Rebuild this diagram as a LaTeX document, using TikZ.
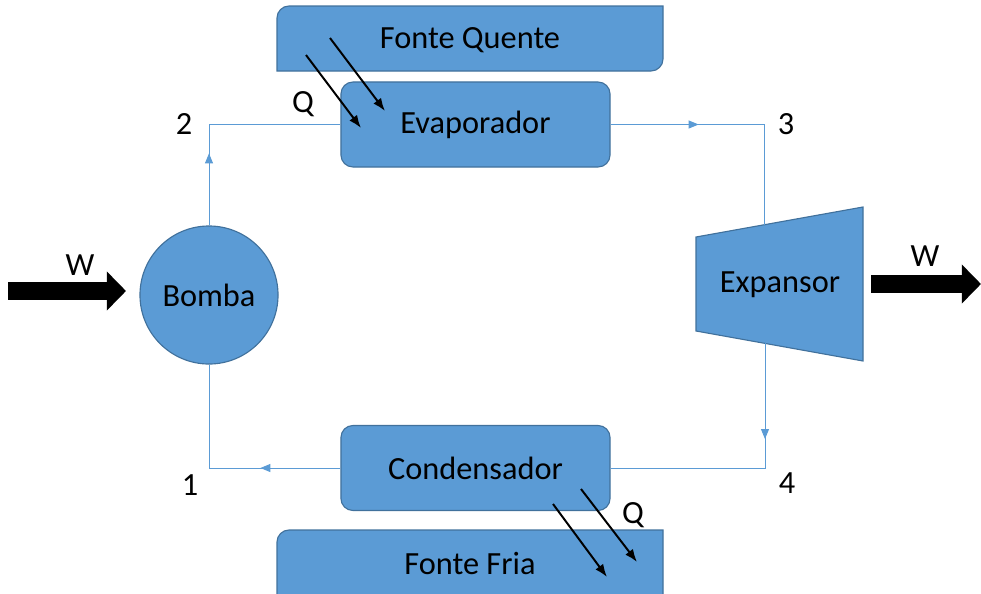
\documentclass[tikz,border=0pt]{standalone}
\usepackage{fontspec}
\setmainfont{Carlito}
\usetikzlibrary{arrows.meta, positioning, decorations.markings}
\definecolor{office}{HTML}{5B9BD5}
\definecolor{officeline}{HTML}{41719C}

\tikzset{
  lbl/.style={font=\fontsize{23}{27}\selectfont},
  unit/.style={draw=officeline, fill=office, line width=0.8pt, lbl},
  box/.style={unit, rounded corners=0.3cm, minimum width=6.725cm, minimum height=2.125cm},
  flow/.style={draw=office, line width=0.7pt},
  midtip/.style={postaction={decorate}, decoration={markings,
      mark=at position #1 with {\arrow{Triangle[length=0.25cm,width=0.2cm]}}}},
  heat/.style={line width=1.4pt, -{Latex[length=0.32cm,width=0.24cm]}},
  work/.style={line width=0.45cm, -{Triangle[length=0.48cm,width=0.95cm]}},
}

\begin{document}
\begin{tikzpicture}[x=0.025cm, y=-0.025cm]
  \useasboundingbox (0,0) rectangle (981,593);

  % Hot and cold sources
  \draw[unit] (277,71) [rounded corners=0.3cm] -- (277,6) [sharp corners] -- (663,6)
    [rounded corners=0.3cm] -- (663,71) [sharp corners] -- cycle;
  \node[lbl] (quente) at (470,40) {Fonte Quente};
  \draw[unit] (277,598) [rounded corners=0.3cm] -- (277,530) [sharp corners] -- (663,530)
    [rounded corners=0.3cm] -- (663,590) [sharp corners] -- (663,598) -- cycle;
  \node[lbl] (fria) at (470,563) {Fonte Fria};

  % Components
  \node[box] (evap) at (475.5,124.5) {Evaporador};
  \node[box] (cond) at (475.5,468) {Condensador};
  \node[unit, circle, minimum size=3.45cm] (bomba) at (209,295) {Bomba};
  \draw[unit] (696,237) -- (863,207) -- (863,361) -- (696,331) -- cycle;
  \node[lbl] (exp) at (780,285) {Expansor};
  \coordinate (exp-in) at (764,225);
  \coordinate (exp-out) at (765,343);

  % Cycle
  \draw[flow, midtip=1.8cm] (bomba.north) |- (evap.west);
  \draw[flow, midtip=2.2cm] (evap.east) -| (exp-in);
  \draw[flow, midtip=2.4cm] (exp-out) |- (cond.east);
  \draw[flow, midtip=2.0cm] (cond.west) -| (bomba.south);

  % State points
  \node[lbl] (p1) at (190,485) {1};
  \node[lbl] (p2) at (184,124) {2};
  \node[lbl] (p3) at (786,124) {3};
  \node[lbl] (p4) at (787,483) {4};

  % Heat
  \coordinate (qin1a) at (306,55);  \coordinate (qin1b) at (361,128);
  \coordinate (qin2a) at (330,38);  \coordinate (qin2b) at (385,111);
  \draw[heat] (qin1a) -- (qin1b);
  \draw[heat] (qin2a) -- (qin2b);
  \node[lbl] (qin) at (303,104) {Q};
  \coordinate (qout1a) at (553,504); \coordinate (qout1b) at (607,577);
  \coordinate (qout2a) at (581,489); \coordinate (qout2b) at (637,562);
  \draw[heat] (qout1a) -- (qout1b);
  \draw[heat] (qout2a) -- (qout2b);
  \node[lbl] (qout) at (633,515) {Q};

  % Work
  \coordinate (win-a) at (8,291);   \coordinate (win-b) at (126,291);
  \draw[work] (win-a) -- (win-b);
  \node[lbl] (win) at (80,265) {W};
  \coordinate (wout-a) at (871,284); \coordinate (wout-b) at (981,284);
  \draw[work] (wout-a) -- (wout-b);
  \node[lbl] (wout) at (925,256) {W};
\end{tikzpicture}
\end{document}
